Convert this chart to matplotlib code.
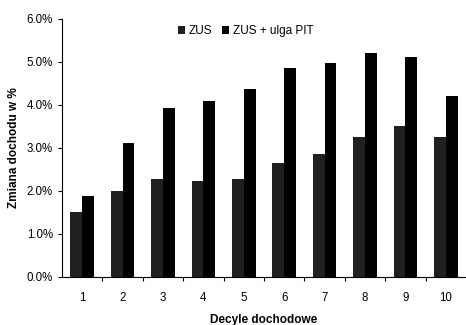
import numpy as np
import matplotlib
matplotlib.use("Agg")
import matplotlib.pyplot as plt
from matplotlib.ticker import FuncFormatter, FixedLocator

deciles = ["1", "2", "3", "4", "5", "6", "7", "8", "9", "10"]
zus = [1.51, 2.00, 2.28, 2.23, 2.28, 2.65, 2.86, 3.26, 3.51, 3.26]
zus_pit = [1.88, 3.12, 3.93, 4.09, 4.37, 4.86, 4.98, 5.21, 5.12, 4.20]
series_labels = ["ZUS", "ZUS + ulga PIT"]

plt.rcParams["font.family"] = ["Liberation Sans", "DejaVu Sans"]

fig = plt.figure(figsize=(4.66, 3.25), dpi=100)
ax = fig.add_axes([0.133, 0.148, 0.867, 0.794])

x = np.arange(1, len(deciles) + 1)
w = 0.29
ax.bar(x - w / 2, zus, width=w, color="#202020", label=series_labels[0])
ax.bar(x + w / 2, zus_pit, width=w, color="black", label=series_labels[1])

ax.set_xlim(0.5, 10.5)
ax.set_ylim(0, 6.0)
ax.set_yticks(np.arange(0, 6.01, 1.0))
ax.yaxis.set_major_formatter(FuncFormatter(lambda v, p: f"{v:.1f}%"))

# category labels as minor ticks, tick marks at category boundaries
ax.xaxis.set_major_locator(FixedLocator(np.arange(1.5, 10.5, 1.0)))
ax.xaxis.set_major_formatter(FuncFormatter(lambda v, p: ""))
ax.xaxis.set_minor_locator(FixedLocator(x))
ax.set_xticklabels(deciles, minor=True)
ax.tick_params(axis="x", which="major", length=3, width=0.8, direction="out")
ax.tick_params(axis="x", which="minor", length=0, pad=11, labelsize=8.3)
ax.tick_params(axis="y", length=3, width=0.8, direction="out", labelsize=8.3)

for s in ["top", "right"]:
    ax.spines[s].set_visible(False)
ax.spines["left"].set_linewidth(0.8)
ax.spines["bottom"].set_linewidth(0.8)

ax.set_xlabel("Decyle dochodowe", fontsize=8.5, fontweight="bold", labelpad=7)
ax.set_ylabel("Zmiana dochodu w %", fontsize=8.5, fontweight="bold", labelpad=5)

ax.legend(loc="center", bbox_to_anchor=(0.455, 0.953), ncol=2, frameon=False,
          fontsize=8.5, handlelength=0.6, handleheight=0.6, handletextpad=0.3,
          columnspacing=0.8)

fig.savefig("out.png", dpi=100)
